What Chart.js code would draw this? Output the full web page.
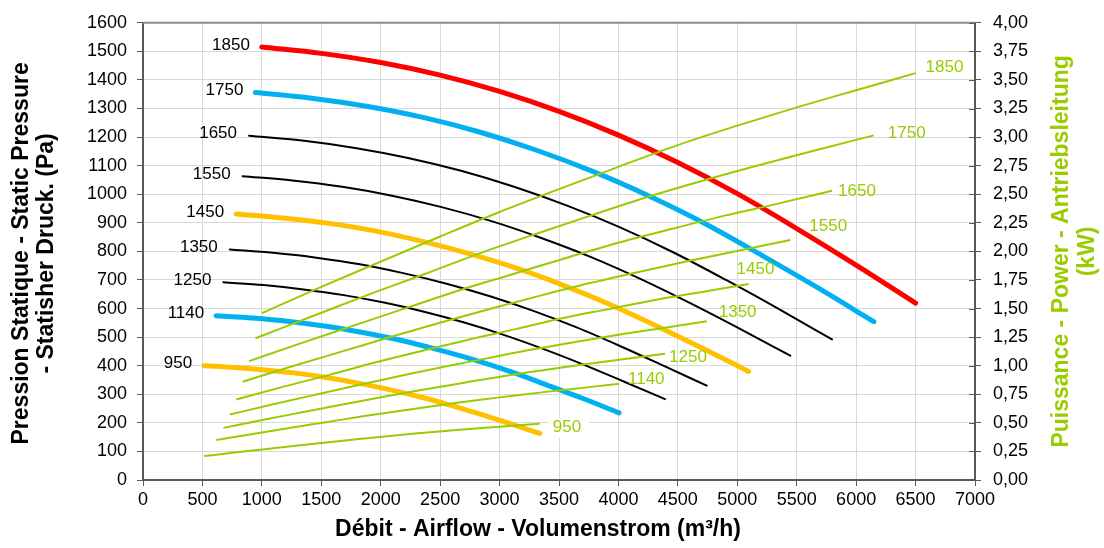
<!DOCTYPE html>
<html>
<head>
<meta charset="utf-8">
<script src="https://cdn.jsdelivr.net/npm/chart.js@4.4.1/dist/chart.umd.min.js"></script>
<style>
    body { margin: 0; background: #fff; }
    #wrap { width: 1104px; height: 548px; position: relative; }
</style>
</head>
<body>
<div id="wrap"><canvas id="fanChart"></canvas></div>
<script>
// fan speeds (rpm), one pressure curve + one power curve each
const speeds = [1850, 1750, 1650, 1550, 1450, 1350, 1250, 1140, 950];

// airflow m3/h, shared by the pressure and power curve of a speed
const flow = [
    [1000, 1500, 2000, 2500, 3000, 3500, 4000, 4500, 5000, 5500, 6000, 6500],
    [946, 1419, 1892, 2365, 2838, 3311, 3784, 4257, 4730, 5203, 5676, 6149],
    [892, 1338, 1784, 2230, 2676, 3122, 3568, 4014, 4460, 4905, 5351, 5797],
    [838, 1257, 1676, 2095, 2513, 2932, 3351, 3770, 4189, 4608, 5027, 5446],
    [784, 1176, 1568, 1960, 2351, 2743, 3135, 3527, 3919, 4311, 4703, 5095],
    [730, 1095, 1459, 1824, 2189, 2554, 2919, 3284, 3649, 4013, 4378, 4743],
    [676, 1014, 1351, 1689, 2027, 2365, 2703, 3041, 3378, 3716, 4054, 4392],
    [616, 924, 1232, 1541, 1849, 2157, 2465, 2773, 3081, 3389, 3697, 4005],
    [514, 770, 1027, 1284, 1541, 1797, 2054, 2311, 2568, 2824, 3081, 3338]
];

// static pressure Pa
const pressure = [
    [1515, 1493, 1461, 1417, 1360, 1290, 1207, 1111, 1002, 880, 752, 619],
    [1356, 1336, 1307, 1268, 1217, 1154, 1080, 994, 897, 787, 673, 554],
    [1205, 1188, 1162, 1127, 1082, 1026, 960, 884, 797, 700, 598, 492],
    [1063, 1048, 1026, 995, 955, 906, 847, 780, 703, 618, 528, 435],
    [931, 917, 898, 871, 835, 792, 742, 683, 616, 541, 462, 380],
    [807, 795, 778, 755, 724, 687, 643, 592, 534, 469, 400, 330],
    [692, 682, 667, 647, 621, 589, 551, 507, 457, 402, 343, 283],
    [575, 567, 555, 538, 516, 490, 458, 422, 381, 334, 286, 235],
    [400, 394, 385, 374, 359, 340, 318, 293, 264, 232, 198, 163]
];

// shaft power kW
const power = [
    [1.46, 1.69, 1.91, 2.13, 2.345, 2.545, 2.74, 2.93, 3.10, 3.26, 3.41, 3.56],
    [1.24, 1.43, 1.62, 1.80, 1.985, 2.155, 2.32, 2.48, 2.625, 2.76, 2.89, 3.015],
    [1.04, 1.20, 1.355, 1.51, 1.665, 1.805, 1.945, 2.08, 2.20, 2.315, 2.42, 2.53],
    [0.86, 0.995, 1.125, 1.255, 1.38, 1.50, 1.615, 1.725, 1.825, 1.92, 2.01, 2.10],
    [0.705, 0.815, 0.92, 1.03, 1.13, 1.23, 1.32, 1.415, 1.495, 1.575, 1.645, 1.715],
    [0.573, 0.662, 0.748, 0.833, 0.917, 0.995, 1.07, 1.144, 1.21, 1.272, 1.33, 1.389],
    [0.456, 0.527, 0.595, 0.663, 0.729, 0.791, 0.851, 0.91, 0.962, 1.012, 1.058, 1.104],
    [0.349, 0.403, 0.455, 0.506, 0.557, 0.604, 0.649, 0.694, 0.733, 0.771, 0.806, 0.841],
    [0.209, 0.24, 0.27, 0.30, 0.329, 0.356, 0.382, 0.408, 0.431, 0.453, 0.473, 0.493]
];

/* styles */
const GREEN = "#99cc00";
const FONT = "Arial, 'Liberation Sans', sans-serif";
const pressureColor = ["#ff0000", "#00b0f0", "#000000", "#000000", "#ffc000", "#000000", "#000000", "#00b0f0", "#ffc000"];
const pressureWidth = [5, 5, 2, 2, 5, 2, 2, 5, 5];
// power label placement relative to line end (px)
const powerLabelOffset = [[10, -6], [14, -2], [6, 0], [19, -14], [-12, -15], [12, -9], [4, 3], [9, -5], [13, 4]];

const datasets = [];
speeds.forEach((s, i) => {
    datasets.push({
        data: flow[i].map((q, k) => ({ x: q, y: power[i][k] })),
        yAxisID: "y1",
        borderColor: GREEN,
        borderWidth: 2,
        pointRadius: 0,
        cubicInterpolationMode: "monotone",
        order: 0
    });
});
speeds.forEach((s, i) => {
    datasets.push({
        data: flow[i].map((q, k) => ({ x: q, y: pressure[i][k] })),
        yAxisID: "y",
        borderColor: pressureColor[i],
        borderWidth: pressureWidth[i],
        borderCapStyle: "round",
        pointRadius: 0,
        cubicInterpolationMode: "monotone",
        order: 1
    });
});

const labelsPlugin = {
    id: "curveLabels",
    afterDatasetsDraw(chart) {
        const { ctx, scales, chartArea } = chart;
        ctx.save();

        // top frame line
        ctx.strokeStyle = "#8c8c8c";
        ctx.lineWidth = 2;
        ctx.beginPath();
        ctx.moveTo(chartArea.left, chartArea.top);
        ctx.lineTo(chartArea.right, chartArea.top);
        ctx.stroke();

        // cross ticks on right axis (inner half)
        ctx.strokeStyle = "#595959";
        ctx.lineWidth = 1;
        scales.y1.ticks.forEach(t => {
            const py = Math.round(scales.y1.getPixelForValue(t.value)) + 0.5;
            ctx.beginPath();
            ctx.moveTo(chartArea.right - 6, py);
            ctx.lineTo(chartArea.right, py);
            ctx.stroke();
        });

        ctx.font = `17px ${FONT}`;
        ctx.textBaseline = "middle";
        speeds.forEach((s, i) => {
            // pressure labels, left of curve start
            ctx.textAlign = "right";
            ctx.fillStyle = "#000";
            ctx.fillText(String(s),
                scales.x.getPixelForValue(flow[i][0]) - 12,
                scales.y.getPixelForValue(pressure[i][0]) - 2);

            // power labels, right of line end
            const n = flow[i].length - 1;
            const px = scales.x.getPixelForValue(flow[i][n]) + powerLabelOffset[i][0];
            const py = scales.y1.getPixelForValue(power[i][n]) + powerLabelOffset[i][1];
            ctx.textAlign = "left";
            if (s === 950) {
                const w = ctx.measureText("950").width;
                ctx.fillStyle = "#fff";
                ctx.fillRect(px - 4, py - 10, w + 12, 20);
            }
            ctx.fillStyle = GREEN;
            ctx.fillText(String(s), px, py);
        });

        // axis titles
        ctx.font = `bold 23px ${FONT}`;
        ctx.textAlign = "center";
        ctx.fillStyle = "#000";
        ctx.fillText("Débit - Airflow - Volumenstrom (m³/h)", 538, 530);

        const midY = (chartArea.top + chartArea.bottom) / 2;
        ctx.save();
        ctx.translate(22, midY + 2);
        ctx.rotate(-Math.PI / 2);
        ctx.fillText("Pression Statique - Static Pressure", 0, 0);
        ctx.fillText("- Statisher Druck. (Pa)", 0, 25);
        ctx.restore();

        ctx.save();
        ctx.translate(1062, midY);
        ctx.rotate(-Math.PI / 2);
        ctx.fillStyle = GREEN;
        ctx.fillText("Puissance - Power - Antriebsleitung", 0, 0);
        ctx.fillText("(kW)", 0, 26);
        ctx.restore();

        ctx.restore();
    }
};

const tickFont = { family: FONT, size: 18 };
const gridStyle = { color: "#d9d9d9", lineWidth: 1, tickColor: "#595959", tickLength: 6 };
const borderStyle = { color: "#595959", width: 2 };

new Chart(document.getElementById("fanChart"), {
    type: "line",
    data: { datasets },
    options: {
        responsive: true,
        maintainAspectRatio: false,
        animation: false,
        layout: { padding: { top: 14, left: 0, right: 0, bottom: 0 } },
        plugins: {
            legend: { display: false },
            tooltip: { enabled: false }
        },
        scales: {
            x: {
                type: "linear",
                min: 0,
                max: 7000,
                ticks: {
                    stepSize: 500, color: "#000", font: tickFont, padding: 3,
                    maxRotation: 0, autoSkip: false, callback: v => String(v)
                },
                grid: gridStyle,
                border: borderStyle,
                afterFit(scale) { scale.height = 68; }
            },
            y: {
                position: "left",
                min: 0,
                max: 1600,
                ticks: {
                    stepSize: 100, color: "#000", font: tickFont, padding: 10,
                    autoSkip: false, callback: v => String(v)
                },
                grid: gridStyle,
                border: borderStyle,
                afterFit(scale) { scale.width = 143; }
            },
            y1: {
                position: "right",
                min: 0,
                max: 4,
                ticks: {
                    stepSize: 0.25,
                    color: "#000",
                    font: tickFont,
                    padding: 12,
                    autoSkip: false,
                    callback: v => v.toFixed(2).replace(".", ",")
                },
                grid: { drawOnChartArea: false, tickColor: "#595959", tickLength: 6 },
                border: borderStyle,
                afterFit(scale) { scale.width = 129; }
            }
        }
    },
    plugins: [labelsPlugin]
});
</script>
</body>
</html>
